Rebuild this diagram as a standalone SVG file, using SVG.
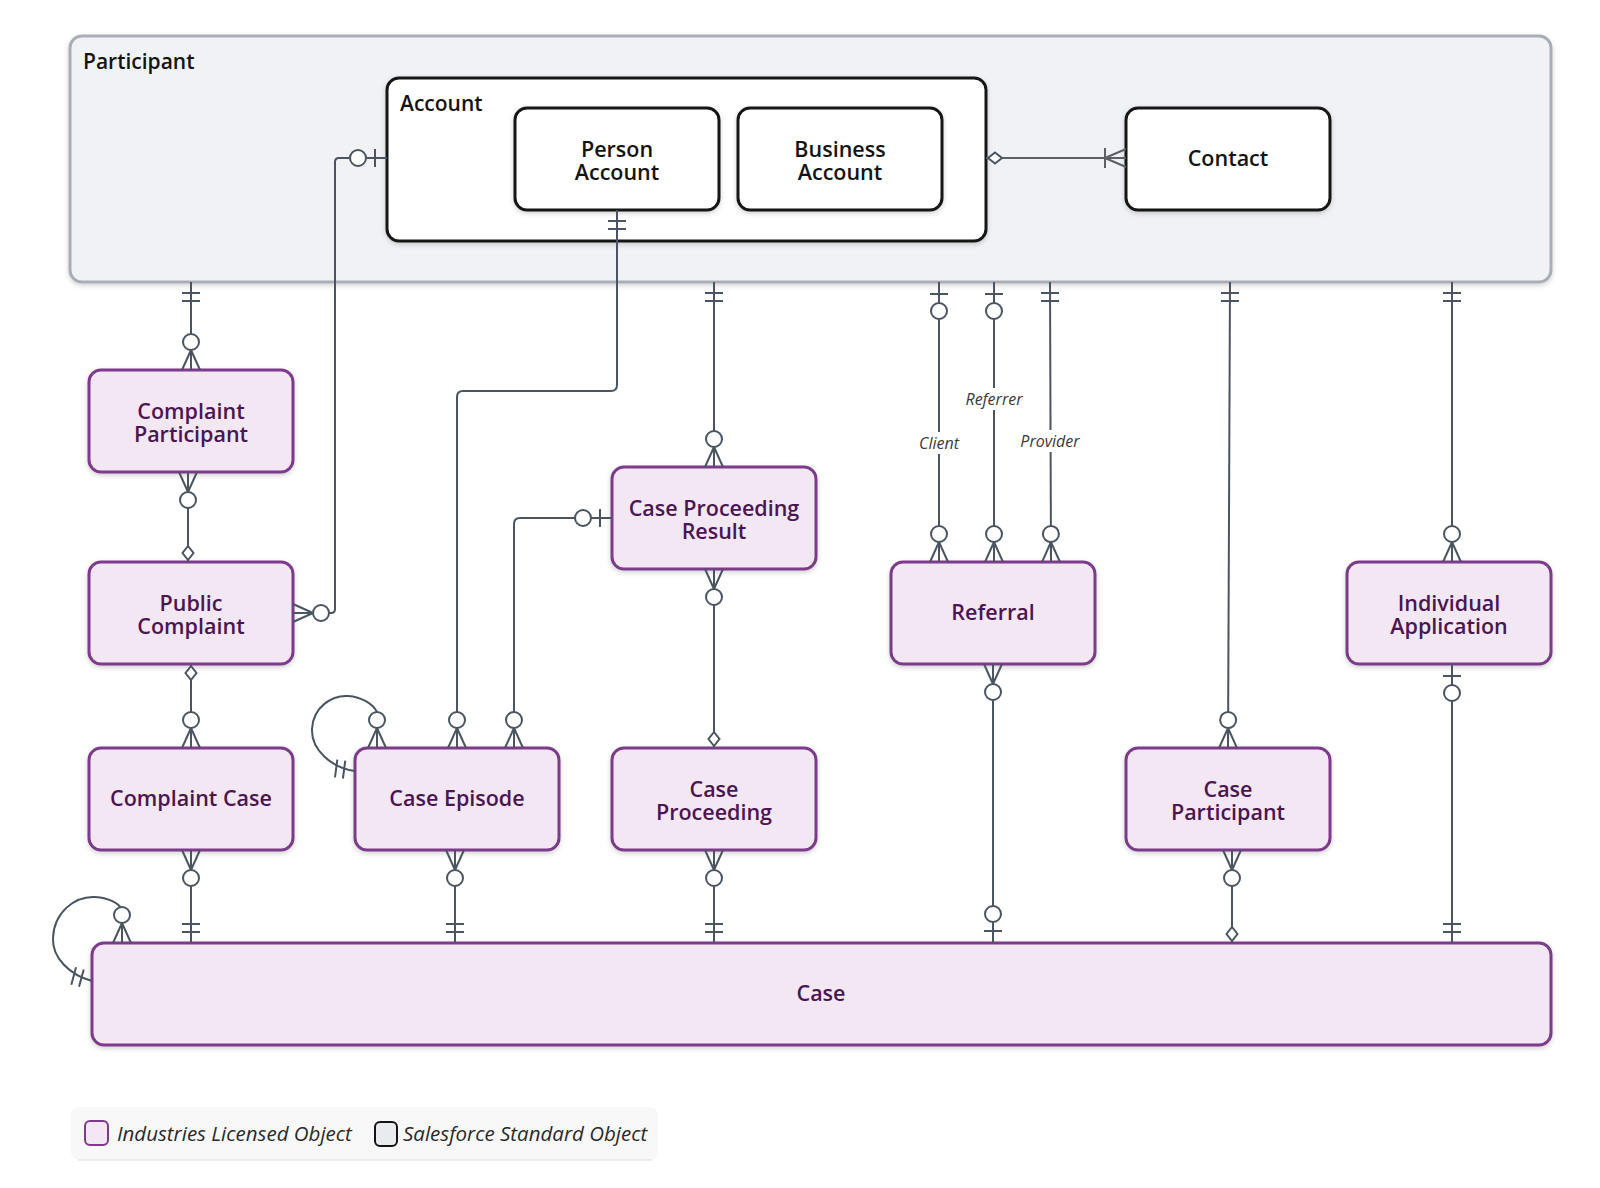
<svg xmlns="http://www.w3.org/2000/svg" width="1600" height="1188" viewBox="0 0 1600 1188">
<style>
text{font-family:"Open Sans","Noto Sans","Liberation Sans",sans-serif}
.lic rect{fill:#f2e7f3;stroke:#7d3b8b;stroke-width:3}
.lic text{fill:#4a1552;font-size:21.5px;font-weight:600;text-anchor:middle}
.std rect{fill:#fff;stroke:#141414;stroke-width:3}
.std text{fill:#141414;font-size:21.5px;font-weight:600;text-anchor:middle}
.conn path{fill:none;stroke:#4a5561;stroke-width:2}
.lbl rect{fill:#fff}
.lbl text{font-size:16px;font-style:italic;fill:#3a3a3a;text-anchor:middle}
.mk{fill:none;stroke:#4a5561;stroke-width:2}
.mkf{fill:#fff;stroke:#4a5561;stroke-width:2}
.title{font-size:21px;font-weight:600;fill:#141414}
.leg{font-size:20.5px;font-style:italic;fill:#2a2a2a}
</style>
<defs>
<filter id="sh" x="-10%" y="-10%" width="120%" height="130%">
<feDropShadow dx="0" dy="2" stdDeviation="2.5" flood-color="#000" flood-opacity="0.18"/>
</filter>
<marker id="zm" viewBox="-40 -12 42 24" refX="0" refY="0" markerWidth="42" markerHeight="24" markerUnits="userSpaceOnUse" orient="auto-start-reverse">
<path class="mk" d="M-20,0 L0,-9 M-20,0 L0,0 M-20,0 L0,9"/>
<circle class="mkf" cx="-28" cy="0" r="8"/>
</marker>
<marker id="one" viewBox="-40 -12 42 24" refX="0" refY="0" markerWidth="42" markerHeight="24" markerUnits="userSpaceOnUse" orient="auto-start-reverse">
<path class="mk" d="M-11,-9 L-11,9 M-19,-9 L-19,9"/>
</marker>
<marker id="zo" viewBox="-40 -12 42 24" refX="0" refY="0" markerWidth="42" markerHeight="24" markerUnits="userSpaceOnUse" orient="auto-start-reverse">
<path class="mk" d="M-12,-9 L-12,9"/>
<circle class="mkf" cx="-29" cy="0" r="8"/>
</marker>
<marker id="om" viewBox="-40 -12 42 24" refX="0" refY="0" markerWidth="42" markerHeight="24" markerUnits="userSpaceOnUse" orient="auto-start-reverse">
<path d="M-21,0 L0,-9 M-21,0 L0,0 M-21,0 L0,9 M-21,-10 L-21,10" fill="none" stroke="#5c6066" stroke-width="2"/>
</marker>
<marker id="dia" viewBox="-40 -12 42 24" refX="0" refY="0" markerWidth="42" markerHeight="24" markerUnits="userSpaceOnUse" orient="auto-start-reverse">
<polygon class="mkf" points="-2,0 -9,-5.5 -16,0 -9,5.5"/>
</marker>
</defs>
<rect width="1600" height="1188" fill="#fff"/>

<g id="participant">
<rect x="70" y="36" width="1481" height="246" rx="12" fill="#f1f2f6" stroke="#a9aeb6" stroke-width="3" filter="url(#sh)"/>
<text class="title" x="83" y="69">Participant</text>
</g>
<g id="account">
<rect x="387" y="78" width="599" height="163" rx="12" fill="#fff" stroke="#141414" stroke-width="3" filter="url(#sh)"/>
<text class="title" x="400" y="111">Account</text>
</g>
<g id="person-account" class="std">
<rect x="515" y="108" width="204" height="102" rx="12" filter="url(#sh)"/>
<text x="617" y="157">Person<tspan x="617" dy="22.5">Account</tspan></text>
</g>
<g id="business-account" class="std">
<rect x="738" y="108" width="204" height="102" rx="12" filter="url(#sh)"/>
<text x="840" y="157">Business<tspan x="840" dy="22.5">Account</tspan></text>
</g>
<g id="contact" class="std">
<rect x="1126" y="108" width="204" height="102" rx="12" filter="url(#sh)"/>
<text x="1228" y="166">Contact</text>
</g>

<g id="complaint-participant" class="lic">
<rect x="89" y="370" width="204" height="102" rx="12" filter="url(#sh)"/>
<text x="191" y="419">Complaint<tspan x="191" dy="22.5">Participant</tspan></text>
</g>
<g id="public-complaint" class="lic">
<rect x="89" y="562" width="204" height="102" rx="12" filter="url(#sh)"/>
<text x="191" y="611">Public<tspan x="191" dy="22.5">Complaint</tspan></text>
</g>
<g id="complaint-case" class="lic">
<rect x="89" y="748" width="204" height="102" rx="12" filter="url(#sh)"/>
<text x="191" y="806">Complaint Case</text>
</g>
<g id="case-episode" class="lic">
<rect x="355" y="748" width="204" height="102" rx="12" filter="url(#sh)"/>
<text x="457" y="806">Case Episode</text>
</g>
<g id="case-proceeding-result" class="lic">
<rect x="612" y="467" width="204" height="102" rx="12" filter="url(#sh)"/>
<text x="714" y="516">Case Proceeding<tspan x="714" dy="22.5">Result</tspan></text>
</g>
<g id="case-proceeding" class="lic">
<rect x="612" y="748" width="204" height="102" rx="12" filter="url(#sh)"/>
<text x="714" y="797">Case<tspan x="714" dy="22.5">Proceeding</tspan></text>
</g>
<g id="referral" class="lic">
<rect x="891" y="562" width="204" height="102" rx="12" filter="url(#sh)"/>
<text x="993" y="620">Referral</text>
</g>
<g id="individual-application" class="lic">
<rect x="1347" y="562" width="204" height="102" rx="12" filter="url(#sh)"/>
<text x="1449" y="611">Individual<tspan x="1449" dy="22.5">Application</tspan></text>
</g>
<g id="case-participant" class="lic">
<rect x="1126" y="748" width="204" height="102" rx="12" filter="url(#sh)"/>
<text x="1228" y="797">Case<tspan x="1228" dy="22.5">Participant</tspan></text>
</g>
<g id="case" class="lic">
<rect x="92" y="943" width="1459" height="102" rx="12" filter="url(#sh)"/>
<text x="821" y="1001">Case</text>
</g>

<g id="connectors" class="conn">
<path d="M191,282 L191,370" marker-start="url(#one)" marker-end="url(#zm)"/>
<path d="M188,472 L188,562" marker-start="url(#zm)" marker-end="url(#dia)"/>
<path d="M293,613 L331,613 Q335,613 335,609 L335,162 Q335,158 339,158 L387,158" marker-start="url(#zm)" marker-end="url(#zo)"/>
<path d="M191,664 L191,748" marker-start="url(#dia)" marker-end="url(#zm)"/>
<path d="M191,850 L191,943" marker-start="url(#zm)" marker-end="url(#one)"/>
<path d="M92,981 C70,975 52,958 53,938 C54,912 75,896 95,897 C110,898 120,904 122,910 L122,943" marker-start="url(#one)" marker-end="url(#zm)"/>
<path d="M355,771 C332,768 311,750 312,729 C313,707 332,695 348,696 C362,697 373,704 377,712 L377,748" marker-start="url(#one)" marker-end="url(#zm)"/>
<path d="M617,210 L617,385 Q617,391 611,391 L463,391 Q457,391 457,397 L457,748" marker-start="url(#one)" marker-end="url(#zm)"/>
<path d="M612,518 L520,518 Q514,518 514,524 L514,748" marker-start="url(#zo)" marker-end="url(#zm)"/>
<path d="M455,850 L455,943" marker-start="url(#zm)" marker-end="url(#one)"/>
<path d="M714,282 L714,467" marker-start="url(#one)" marker-end="url(#zm)"/>
<path d="M714,569 L714,748" marker-start="url(#zm)" marker-end="url(#dia)"/>
<path d="M714,850 L714,943" marker-start="url(#zm)" marker-end="url(#one)"/>
<path d="M939,282 L939,562" marker-start="url(#zo)" marker-end="url(#zm)"/>
<path d="M994,282 L994,562" marker-start="url(#zo)" marker-end="url(#zm)"/>
<path d="M1050,282 L1051,562" marker-start="url(#one)" marker-end="url(#zm)"/>
<path d="M993,664 L993,943" marker-start="url(#zm)" marker-end="url(#zo)"/>
<path d="M1230,282 L1228,748" marker-start="url(#one)" marker-end="url(#zm)"/>
<path d="M1232,850 L1232,943" marker-start="url(#zm)" marker-end="url(#dia)"/>
<path d="M1452,282 L1452,562" marker-start="url(#one)" marker-end="url(#zm)"/>
<path d="M1452,664 L1452,943" marker-start="url(#zo)" marker-end="url(#one)"/>
<path d="M986,158 L1126,158" style="stroke:#5c6066" marker-start="url(#dia)" marker-end="url(#om)"/>
<g class="lbl">
<rect x="914" y="432" width="50" height="22"/><text x="939" y="449">Client</text>
<rect x="961" y="388" width="66" height="22"/><text x="994" y="405">Referrer</text>
<rect x="1017" y="430" width="68" height="22"/><text x="1050" y="447">Provider</text>
</g>
</g>

<g id="legend">
<rect x="71" y="1107" width="587" height="53" rx="8" fill="#f8f8f8"/>
<line x1="78" y1="1160" x2="652" y2="1160" stroke="#e6e6e6" stroke-width="1.5"/>
<rect x="85" y="1121" width="23" height="24" rx="5" fill="#f2e7f3" stroke="#7d3b8b" stroke-width="2"/>
<text class="leg" x="117" y="1141">Industries Licensed Object</text>
<rect x="375" y="1122" width="22" height="24" rx="5" fill="#e9ebef" stroke="#141414" stroke-width="2"/>
<text class="leg" x="403" y="1141">Salesforce Standard Object</text>
</g>
</svg>
